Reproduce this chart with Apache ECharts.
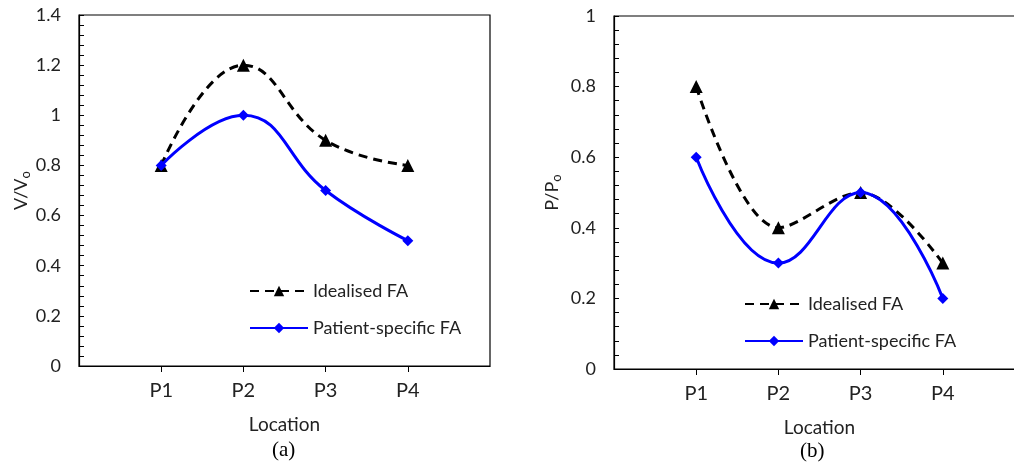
<!DOCTYPE html>
<html>
<head>
<meta charset="utf-8">
<script src="https://cdn.jsdelivr.net/npm/echarts@6/dist/echarts.min.js"></script>
<style>
  html, body { margin: 0; padding: 0; background: #fff; }
  #chart { width: 1014px; height: 466px; }
</style>
</head>
<body>
<div id="chart"></div>
<script>
// empty slots at both ends give the padding Excel leaves around P1..P4
const locations = ['', 'P1', 'P2', 'P3', 'P4', '']
const velIdealised = [null, 0.8, 1.2, 0.9, 0.8, null]
const velPatient = [null, 0.8, 1.0, 0.7, 0.5, null]
const presIdealised = [null, 0.8, 0.4, 0.5, 0.3, null]
const presPatient = [null, 0.6, 0.3, 0.5, 0.2, null]

const font = 'Lato, "Open Sans", sans-serif'
const chart = echarts.init(document.getElementById('chart'))

function xAxis(idx) {
  return {
    type: 'category',
    gridIndex: idx,
    data: locations,
    boundaryGap: false,
    name: 'Location',
    nameLocation: 'middle',
    nameGap: 49,
    nameMoveOverlap: false,
    nameTextStyle: { fontFamily: font, fontSize: 19, color: '#222' },
    axisLine: { lineStyle: { color: '#000', width: 1.2 } },
    axisTick: {
      length: 6,
      lineStyle: { color: '#000' },
      interval: (i, v) => v !== ''
    },
    axisLabel: { margin: 15, fontFamily: font, fontSize: 20, color: '#222', interval: 0 },
    splitLine: { show: false }
  }
}

function yAxis(idx, max, name, gap) {
  return {
    type: 'value',
    gridIndex: idx,
    min: 0,
    max: max,
    interval: 0.2,
    name: name,
    nameLocation: 'middle',
    nameGap: gap,
    nameRotate: 90,
    nameMoveOverlap: false,
    nameTextStyle: {
      fontFamily: font, fontSize: 18, color: '#222',
      rich: { s: { fontFamily: font, fontSize: 13, color: '#222', padding: [8, 0, 0, 0] } }
    },
    axisLine: { show: true, lineStyle: { color: '#000', width: 1.2 } },
    axisTick: { show: true, inside: true, length: 5, lineStyle: { color: '#000' } },
    minorTick: { show: true, splitNumber: 5, length: 5, lineStyle: { color: '#000' } },
    axisLabel: { margin: 18, fontFamily: font, fontSize: 18, color: '#222' },
    splitLine: { show: false }
  }
}

function series(name, idx, data, dashed, smooth) {
  return {
    name: name,
    type: 'line',
    xAxisIndex: idx,
    yAxisIndex: idx,
    data: data,
    smooth: smooth,
    symbol: dashed ? 'triangle' : 'diamond',
    symbolSize: dashed ? 13 : 11,
    itemStyle: { color: dashed ? '#000' : '#0000ff' },
    lineStyle: {
      color: dashed ? '#000' : '#0000ff',
      width: 3,
      type: dashed ? [9, 6] : 'solid'
    }
  }
}

function legend(idx, left, top) {
  return {
    orient: 'vertical',
    left: left,
    top: top,
    itemWidth: 58,
    itemHeight: 13,
    itemGap: 19,
    textStyle: { fontFamily: font, fontSize: 18, color: '#222' },
    data: idx === 0
      ? [{ name: 'Idealised FA' }, { name: 'Patient-specific FA' }]
      : [{ name: 'Idealised FA ' }, { name: 'Patient-specific FA ' }]
  }
}

chart.setOption({
  animation: false,
  grid: [
    { left: 79, top: 15, width: 411, height: 351, outerBoundsMode: 'none', show: true, borderColor: '#000', borderWidth: 1.2 },
    { left: 614, top: 16, width: 411, height: 353, outerBoundsMode: 'none', show: true, borderColor: '#000', borderWidth: 1.2 }
  ],
  xAxis: [xAxis(0), xAxis(1)],
  yAxis: [yAxis(0, 1.4, 'V/V{s|o}', 47), yAxis(1, 1, 'P/P{s|o}', 51)],
  legend: [legend(0, 244, 277), legend(1, 739, 290)],
  series: [
    series('Idealised FA', 0, velIdealised, true, 0.45),
    series('Patient-specific FA', 0, velPatient, false, 0.45),
    series('Idealised FA ', 1, presIdealised, true, 0.35),
    series('Patient-specific FA ', 1, presPatient, false, 0.45)
  ],
  graphic: [
    { type: 'text', left: 272, top: 440, style: { text: '(a)', font: '21px "Liberation Serif", serif', fill: '#000' } },
    { type: 'text', left: 800, top: 441, style: { text: '(b)', font: '21px "Liberation Serif", serif', fill: '#000' } }
  ]
})
</script>
</body>
</html>
